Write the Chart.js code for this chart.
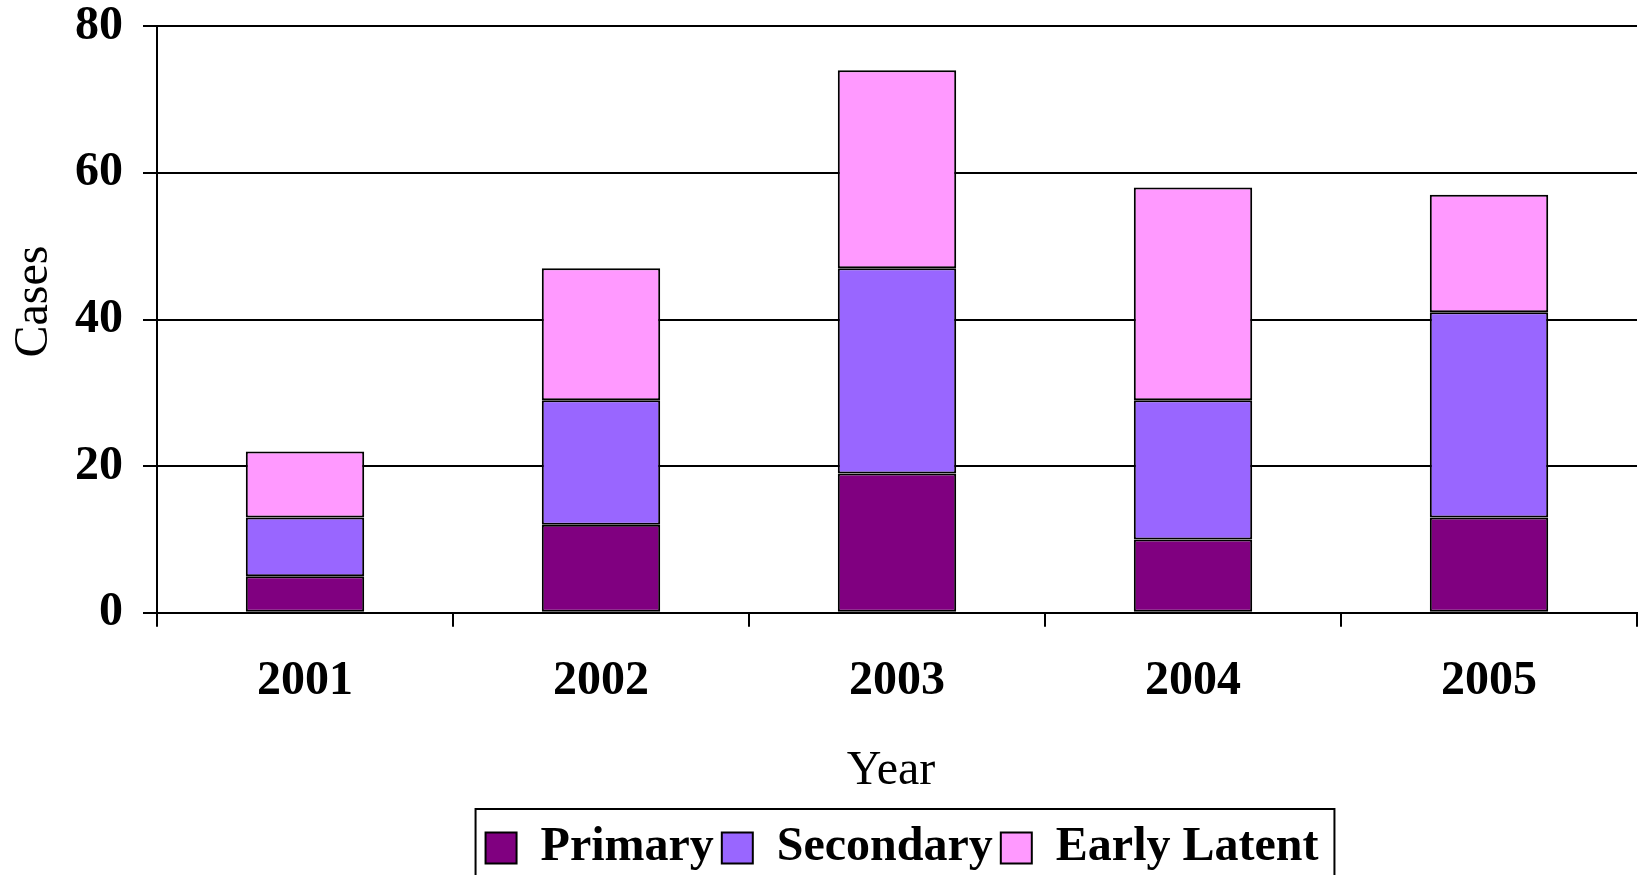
<!DOCTYPE html>
<html>
<head>
<meta charset="utf-8">
<script src="https://cdn.jsdelivr.net/npm/chart.js@4/dist/chart.umd.min.js"></script>
<style>
  html, body { margin: 0; padding: 0; background: #fff; overflow: hidden; }
  #wrap { position: absolute; left: 0; top: -19px; width: 1639px; height: 903px; }
</style>
</head>
<body>
<div id="wrap"><canvas id="chart"></canvas></div>
<script>
const years = ['2001', '2002', '2003', '2004', '2005'];
const primary = [5, 12, 19, 10, 13];
const secondary = [8, 17, 28, 19, 28];
const earlyLatent = [9, 18, 27, 29, 16];

const serif = 'Liberation Serif, Times New Roman, serif';

// box around the legend, like the old Excel chart
const legendFrame = {
    id: 'legendFrame',
    afterLayout(chart) {
        // the original legend sits a bit right of the plot centre
        chart.legend.left += 5;
        chart.legend.right += 5;
    },
    afterDraw(chart) {
        const boxes = chart.legend.legendHitBoxes;
        if (!boxes || !boxes.length) return;
        const first = boxes[0], last = boxes[boxes.length - 1];
        const ctx = chart.ctx;
        ctx.save();
        ctx.strokeStyle = '#000';
        ctx.lineWidth = 2;
        ctx.strokeRect(first.left - 10, chart.legend.top - 7, last.left + last.width - first.left + 26, 90);
        ctx.restore();
    }
};

const ctx = document.getElementById('chart').getContext('2d');
new Chart(ctx, {
    type: 'bar',
    data: {
        labels: years,
        datasets: [
            {label: 'Primary', data: primary, backgroundColor: '#800080'},
            {label: 'Secondary', data: secondary, backgroundColor: '#9966FF'},
            {label: 'Early Latent', data: earlyLatent, backgroundColor: '#FF99FF'}
        ].map(d => Object.assign(d, {borderColor: '#000', borderWidth: 2, borderSkipped: false,
            categoryPercentage: 0.8, barPercentage: 0.5}))
    },
    options: {
        responsive: true,
        maintainAspectRatio: false,
        animation: false,
        layout: {padding: {left: 2, right: 2, top: 0, bottom: 2}},
        plugins: {
            tooltip: {enabled: false},
            legend: {
                position: 'bottom',
                fullSize: false,
                labels: {
                    color: '#000',
                    font: {family: serif, size: 48, weight: 'bold'},
                    boxWidth: 31, boxHeight: 31, padding: 8
                }
            }
        },
        scales: {
            x: {
                stacked: true,
                grid: {
                    drawOnChartArea: true,
                    color: c => c.index === 5 ? '#000' : 'rgba(0,0,0,0)',
                    lineWidth: 2,
                    tickColor: '#000', tickLength: 14, tickWidth: 2
                },
                border: {display: true, color: '#000', width: 2},
                ticks: {color: '#000', padding: 26, font: {family: serif, size: 48, weight: 'bold'}},
                title: {display: true, text: 'Year ', color: '#000', font: {family: serif, size: 48},
                    padding: {top: 6, bottom: 16}}
            },
            y: {
                stacked: true,
                min: 0, max: 80,
                afterFit: s => { s.width = 155; },
                grid: {color: '#000', lineWidth: 2, tickLength: 14, tickColor: '#000'},
                border: {display: true, color: '#000', width: 2},
                ticks: {stepSize: 20, color: '#000', padding: 20,
                    font: {family: serif, size: 48, weight: 'bold', lineHeight: 1.05}},
                title: {display: true, text: '   Cases', color: '#000', font: {family: serif, size: 48},
                    padding: {top: 4, bottom: 0}}
            }
        }
    },
    plugins: [legendFrame]
});
</script>
</body>
</html>
